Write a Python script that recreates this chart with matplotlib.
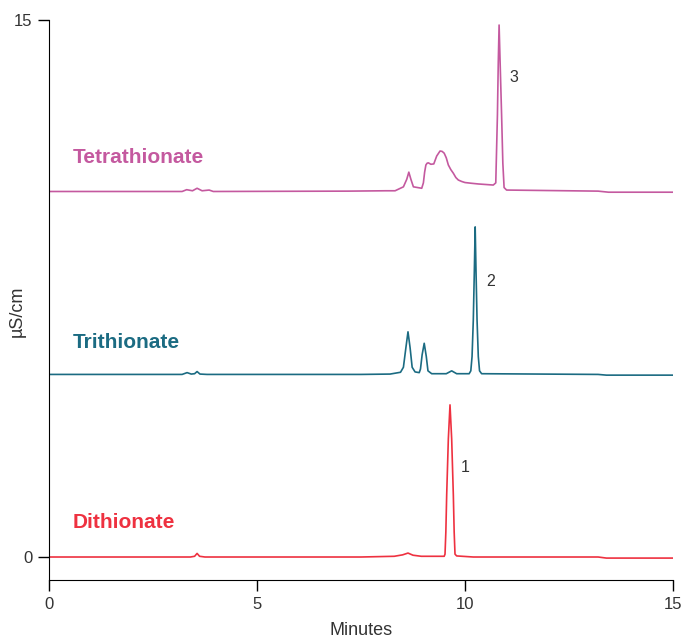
import matplotlib
matplotlib.use("Agg")
import matplotlib.pyplot as plt

plt.rcParams['font.family'] = ['Liberation Sans', 'DejaVu Sans']

# traces (minutes, µS/cm incl. stacking offset)
di_t = [0.0, 3.40, 3.50, 3.56, 3.62, 3.75, 7.50, 8.30, 8.50, 8.63, 8.75, 8.95,
        9.40, 9.50, 9.52, 9.54, 9.56, 9.60, 9.64, 9.68, 9.72, 9.74, 9.76, 9.80,
        10.2, 13.2, 13.4, 15.0]
di_v = [0.0, 0.0, 0.02, 0.10, 0.02, 0.0, 0.0, 0.02, 0.06, 0.11, 0.05, 0.02,
        0.02, 0.02, 0.08, 0.7, 1.73, 3.3, 4.25, 3.3, 1.73, 0.7, 0.08, 0.03,
        0.0, 0.0, -0.03, -0.03]

tri_t = [0.0, 3.20, 3.32, 3.42, 3.50, 3.56, 3.63, 3.80, 7.50, 8.20, 8.45, 8.52,
         8.58, 8.63, 8.68, 8.73, 8.80, 8.90, 8.93, 8.97, 9.02, 9.07, 9.11, 9.20,
         9.55, 9.68, 9.80, 10.05, 10.10, 10.14, 10.17, 10.20, 10.225, 10.245,
         10.265, 10.29, 10.32, 10.35, 10.40, 13.2, 13.4, 15.0]
tri_v = [5.10, 5.10, 5.15, 5.11, 5.12, 5.18, 5.11, 5.10, 5.10, 5.11, 5.16, 5.30,
         5.85, 6.29, 5.85, 5.30, 5.17, 5.15, 5.25, 5.65, 5.97, 5.60, 5.20, 5.12,
         5.12, 5.20, 5.12, 5.12, 5.12, 5.20, 5.6, 6.62, 8.0, 9.22,
         8.0, 6.62, 5.6, 5.20, 5.12, 5.10, 5.08, 5.08]

tetra_t = [0.0, 3.20, 3.31, 3.45, 3.56, 3.68, 3.85, 3.95, 7.20, 8.10, 8.32, 8.52,
           8.60, 8.65, 8.70, 8.76, 8.96, 9.00, 9.03, 9.06, 9.09, 9.12, 9.18,
           9.25, 9.32, 9.40, 9.45, 9.50, 9.55, 9.60, 9.66, 9.72, 9.78, 9.84,
           9.92, 10.0, 10.15, 10.32, 10.68, 10.74, 10.76, 10.78, 10.80,
           10.82, 10.845, 10.88, 10.91, 10.94, 11.0, 13.2, 13.45, 15.0]
tetra_v = [10.21, 10.21, 10.26, 10.23, 10.30, 10.23, 10.25, 10.21, 10.22, 10.23,
           10.23, 10.34, 10.55, 10.75, 10.55, 10.34, 10.30, 10.45, 10.75, 10.95,
           11.0, 11.01, 10.97, 10.98, 11.2, 11.34, 11.33, 11.28, 11.15, 10.95,
           10.82, 10.72, 10.6, 10.53, 10.49, 10.46, 10.44, 10.42, 10.39, 10.45,
           11.4, 12.35, 13.8, 14.86, 13.8, 12.35, 11.0, 10.32, 10.25, 10.22,
           10.19, 10.19]

names = ["Dithionate", "Trithionate", "Tetrathionate"]
colors = ["#ee3140", "#1b6b82", "#c4599f"]
name_y = [0.95, 5.98, 11.17]
peak_nums = ["1", "2", "3"]
peak_xy = [(10.0, 2.5), (10.62, 7.7), (11.18, 13.4)]

fig = plt.figure(figsize=(6.87, 6.39), dpi=100)
ax = fig.add_axes([0.0713, 0.0919, 0.9083, 0.8768])

for t, v, c in zip([di_t, tri_t, tetra_t], [di_v, tri_v, tetra_v], colors):
    ax.plot(t, v, color=c, lw=1.2)

for n, c, y in zip(names, colors, name_y):
    ax.text(0.58, y, n, color=c, fontsize=15, fontweight='bold', va='center', ha='left')

for s, (x, y) in zip(peak_nums, peak_xy):
    ax.text(x, y, s, color='#333333', fontsize=11.5, ha='center', va='center')

ax.set_xlim(0, 15)
ax.set_ylim(-0.65, 15)
ax.set_xticks([0, 5, 10, 15])
ax.set_yticks([0, 15])
ax.spines['top'].set_visible(False)
ax.spines['right'].set_visible(False)
ax.tick_params(length=8, width=1, labelsize=12, labelcolor='#333333', pad=4)
ax.set_xlabel("Minutes", fontsize=13, color='#333333', labelpad=7)
ax.set_ylabel("µS/cm", fontsize=13, color='#333333')
ax.yaxis.set_label_coords(-0.037, 0.48)

fig.savefig("out.png", dpi=100)
